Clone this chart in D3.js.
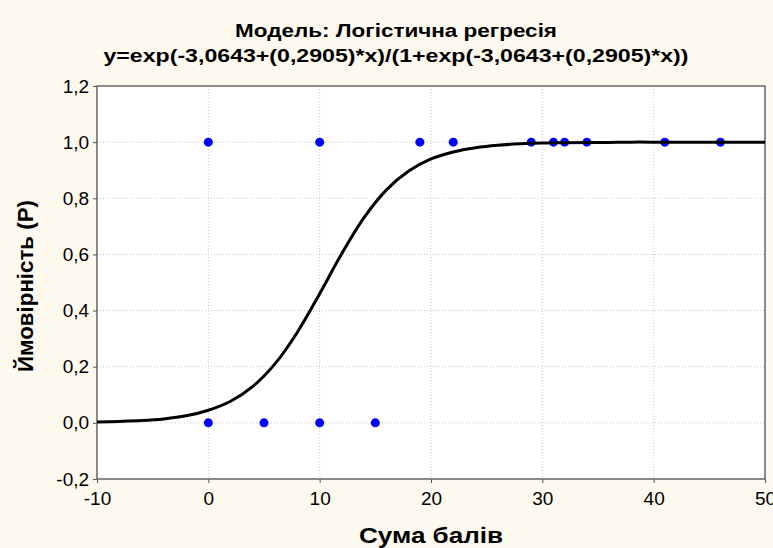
<!DOCTYPE html>
<html>
<head>
<meta charset="utf-8">
<script src="https://cdn.jsdelivr.net/npm/d3@7"></script>
<style>
  html, body { margin: 0; padding: 0; background: #fef9ee; }
  svg { display: block; font-family: "Liberation Sans", Arial, sans-serif; }
  .grid line { stroke: #c8c8c8; stroke-dasharray: 1,2; }
</style>
</head>
<body>
<svg id="chart" width="773" height="548"></svg>
<script>
// observed cases: score and outcome
var pointX = [0, 10, 19, 22, 29, 31, 32, 34, 41, 46, 0, 5, 10, 15];
var pointY = [1, 1, 1, 1, 1, 1, 1, 1, 1, 1, 0, 0, 0, 0];

// fitted curve
var curveX = [-10, -8, -6, -4, -2, 0, 2, 4, 6, 8, 10, 12, 14, 16, 18, 20, 22, 24, 26, 28, 30, 32, 34, 36, 38, 40, 44, 50];
var curveY = [0.003, 0.005, 0.008, 0.014, 0.025, 0.045, 0.077, 0.130, 0.211, 0.323, 0.460, 0.604, 0.732, 0.830, 0.897, 0.940, 0.965, 0.980, 0.989, 0.994, 0.997, 0.998, 0.999, 0.999, 1.0, 1.0, 1.0, 1.0];

var xTicks = [-10, 0, 10, 20, 30, 40, 50];
var yTicks = [-0.2, 0, 0.2, 0.4, 0.6, 0.8, 1.0, 1.2];

var titleLines = ["Модель: Логістична регресія", "y=exp(-3,0643+(0,2905)*x)/(1+exp(-3,0643+(0,2905)*x))"];
var xTitle = "Сума балів";
var yTitle = "Ймовірність (P)";

var svg = d3.select("#chart");
var margin = {top: 86, right: 8, bottom: 69, left: 97};
var width = 773 - margin.left - margin.right;
var height = 548 - margin.top - margin.bottom;

var x = d3.scaleLinear().domain([-10, 50]).range([0, width]);
var y = d3.scaleLinear().domain([-0.2, 1.2]).range([height, 0]);
var fmt = function(d) { return d3.format(".1f")(d).replace(".", ",").replace("−", "-"); };

var g = svg.append("g").attr("transform", "translate(" + margin.left + "," + margin.top + ")");

g.append("rect").attr("width", width).attr("height", height).attr("fill", "#fff");

// grid
g.append("g").attr("class", "grid")
  .selectAll("line").data(xTicks.slice(1, -1)).enter().append("line")
  .attr("x1", function(d) { return x(d); }).attr("x2", function(d) { return x(d); })
  .attr("y1", 0).attr("y2", height);
g.append("g").attr("class", "grid")
  .selectAll("line").data(yTicks.slice(1, -1)).enter().append("line")
  .attr("y1", function(d) { return y(d); }).attr("y2", function(d) { return y(d); })
  .attr("x1", 0).attr("x2", width);

// axes
var xAxis = g.append("g").attr("transform", "translate(0," + height + ")")
  .call(d3.axisBottom(x).tickValues(xTicks).tickSize(4).tickFormat(function(d) { return d < 0 ? "-" + Math.abs(d) : d; }));
var yAxis = g.append("g")
  .call(d3.axisLeft(y).tickValues(yTicks).tickSize(4).tickFormat(fmt));
[xAxis, yAxis].forEach(function(a) {
  a.select(".domain").remove();
  a.selectAll("line").attr("stroke", "#555");
  a.selectAll("text").attr("font-size", 19).attr("fill", "#000")
    .attr("font-family", "Liberation Sans, Arial, sans-serif");
});
xAxis.selectAll("text").attr("dy", "1.0em");
yAxis.selectAll("text").attr("dx", "-0.05em");

g.append("rect").attr("width", width).attr("height", height)
  .attr("fill", "none").attr("stroke", "#666").attr("stroke-width", 1.5);

// points
g.selectAll(".dot").data(pointX).enter().append("circle")
  .attr("class", "dot")
  .attr("cx", function(d) { return x(d); })
  .attr("cy", function(d, i) { return y(pointY[i]); })
  .attr("r", 4.5)
  .attr("fill", "#0000ff");

// curve
var line = d3.line()
  .curve(d3.curveCatmullRom)
  .x(function(d) { return x(d); })
  .y(function(d, i) { return y(curveY[i]); });
g.append("path").attr("d", line(curveX))
  .attr("fill", "none").attr("stroke", "#000").attr("stroke-width", 3);

// titles
var titleLen = [322, 585];
svg.selectAll(".title").data(titleLines).enter().append("text")
  .attr("class", "title")
  .attr("x", 396).attr("y", function(d, i) { return 37 + i * 25; })
  .attr("text-anchor", "middle")
  .attr("font-size", 18).attr("font-weight", "bold")
  .attr("textLength", function(d, i) { return titleLen[i]; })
  .attr("lengthAdjust", "spacingAndGlyphs")
  .text(function(d) { return d; });

svg.append("text").attr("x", margin.left + width / 2).attr("y", 543)
  .attr("text-anchor", "middle").attr("font-size", 22).attr("font-weight", "bold")
  .attr("textLength", 144).attr("lengthAdjust", "spacingAndGlyphs")
  .text(xTitle);

svg.append("text").attr("transform", "translate(33,286) rotate(-90)")
  .attr("text-anchor", "middle").attr("font-size", 22).attr("font-weight", "bold")
  .attr("textLength", 172).attr("lengthAdjust", "spacingAndGlyphs")
  .text(yTitle);
</script>
</body>
</html>
